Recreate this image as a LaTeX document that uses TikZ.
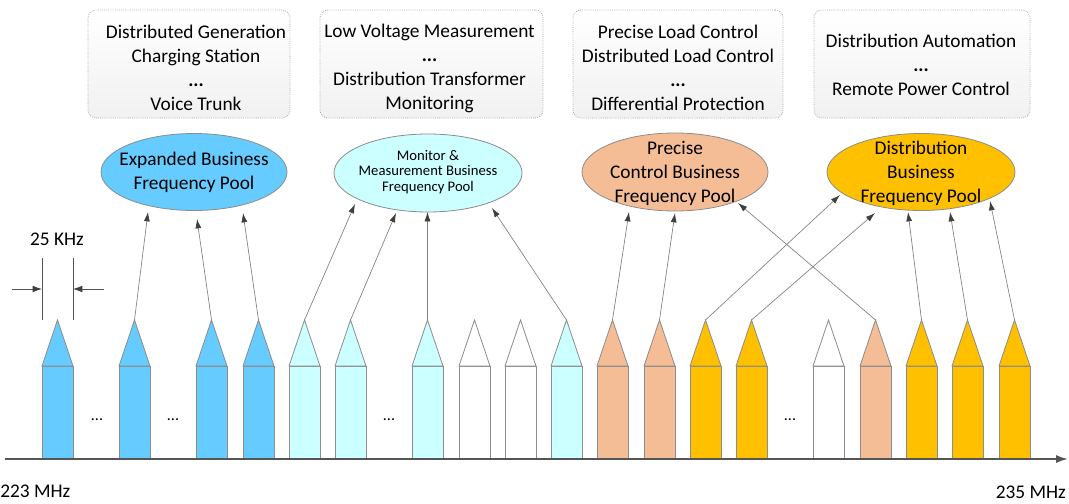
\documentclass[tikz,border=0pt]{standalone}
\usepackage{fontspec}
\setmainfont{Carlito}
\usetikzlibrary{arrows.meta,shapes.geometric,calc}

\definecolor{chanblue}{HTML}{66CCFF}
\definecolor{chancyan}{HTML}{CCFFFF}
\definecolor{chanpeach}{HTML}{F4BD95}
\definecolor{chanyellow}{HTML}{FFC000}
\definecolor{edgegray}{HTML}{8C8C8C}
\definecolor{feedgray}{HTML}{808080}
\definecolor{tipgray}{HTML}{3F3F3F}
\definecolor{axisgray}{HTML}{555555}

\begin{document}
\begin{tikzpicture}[x=0.75pt,y=-0.75pt,
  txt/.style={font=\fontsize{14.5}{18}\selectfont, align=center, inner sep=0pt, text=black},
  smalltxt/.style={font=\fontsize{11}{11.6}\selectfont, align=center, inner sep=0pt},
  dots/.style={font=\fontsize{12}{12}\selectfont, inner sep=0pt},
  chan/.style={draw=edgegray, line width=0.6pt},
  pool/.style={ellipse, draw=edgegray, line width=0.6pt, inner sep=0pt},
  card/.style={rectangle, rounded corners=6pt, draw=gray!70, densely dotted,
    line width=0.6pt, top color=white, bottom color=gray!11, inner sep=0pt,
    minimum height=81pt},
  feed/.style={draw=feedgray, line width=0.5pt,
    -{Latex[length=7pt,width=4.5pt,color=tipgray]}},
  dim/.style={draw=axisgray, line width=0.6pt,
    -{Latex[length=7pt,width=5pt,color=tipgray]}},
  guide/.style={draw=axisgray, line width=0.6pt},
  axis/.style={draw=axisgray, line width=1.3pt,
    -{Latex[length=9pt,width=6pt]}}
]
\useasboundingbox (0,0) rectangle (1069,503);

% service boxes
\node[card, minimum width=151.5pt]  (b1) at (189,64)   {};
\node[card, minimum width=167.25pt] (b2) at (431.5,64) {};
\node[card, minimum width=157.5pt]  (b3) at (678,64)   {};
\node[card, minimum width=162pt]    (b4) at (922,64)   {};
\node[txt] (b1t) at ($(b1)+(7,4)$)   {Distributed Generation\\Charging Station\\\textbf{...}\\Voice Trunk};
\node[txt] (b2t) at ($(b2)+(-2,4)$)  {Low Voltage Measurement\\\textbf{...}\\Distribution Transformer\\Monitoring};
\node[txt] (b3t) at ($(b3)+(0,4)$)   {Precise Load Control\\Distributed Load Control\\\textbf{...}\\Differential Protection};
\node[txt] (b4t) at ($(b4)+(-1,1)$)  {Distribution Automation\\\textbf{...}\\Remote Power Control};

% frequency pools
\node[pool, fill=chanblue,   minimum width=139.5pt, minimum height=57.75pt] (e1) at (194,172) {};
\node[pool, fill=chancyan,   minimum width=141pt,   minimum height=58.5pt]  (e2) at (428,173) {};
\node[pool, fill=chanpeach,  minimum width=139.5pt, minimum height=58.5pt]  (e3) at (675,172) {};
\node[pool, fill=chanyellow, minimum width=141pt,   minimum height=57.75pt] (e4) at (921,172) {};
\node[txt]      (e1t) at (e1) {Expanded Business\\Frequency Pool};
\node[smalltxt] (e2t) at ($(e2)+(0,-1)$) {Monitor \&\\Measurement Business\\Frequency Pool};
\node[txt]      (e3t) at ($(e3)+(0,1)$)  {Precise\\Control Business\\Frequency Pool};
\node[txt]      (e4t) at ($(e4)+(0,1)$)  {Distribution\\Business\\Frequency Pool};

% channels: index / left edge / fill
\foreach \i/\l/\c in {1/42/chanblue, 2/119/chanblue, 3/196/chanblue, 4/243/chanblue,
    5/289/chancyan, 6/335/chancyan, 7/412/chancyan, 8/459/white, 9/505/white,
    10/551/chancyan, 11/597/chanpeach, 12/644/chanpeach, 13/690/chanyellow,
    14/736/chanyellow, 15/813/white, 16/860/chanpeach, 17/906/chanyellow,
    18/952/chanyellow, 19/999/chanyellow} {
  \draw[chan, fill=\c] (\l,366) rectangle ++(31,93);
  \draw[chan, fill=\c] (\l,366) -- ++(15.5,-46) -- ++(15.5,46) -- cycle;
  \coordinate (t\i) at (\l+15.5,320);
}

% gaps in the channel list
\node[dots] (g1) at (97,420)  {...};
\node[dots] (g2) at (173,420) {...};
\node[dots] (g3) at (389,420) {...};
\node[dots] (g4) at (790,420) {...};

% channel-to-pool assignment
\draw[feed] (t2)  -- ($(e1)+(-46,40)$);
\draw[feed] (t3)  -- ($(e1)+(3,47)$);
\draw[feed] (t4)  -- ($(e1)+(49,41)$);
\draw[feed] (t5)  -- ($(e2)+(-73,31)$);
\draw[feed] (t6)  -- ($(e2)+(-32,40)$);
\draw[feed] (t7)  -- ($(e2)+(-0.5,39)$);
\draw[feed] (t10) -- ($(e2)+(64,35)$);
\draw[feed] (t11) -- ($(e3)+(-46,40)$);
\draw[feed] (t12) -- ($(e3)+(0,41)$);
\draw[feed] (t16) -- ($(e3)+(63,31)$);
\draw[feed] (t13) -- ($(e4)+(-81,23)$);
\draw[feed] (t14) -- ($(e4)+(-46,41)$);
\draw[feed] (t17) -- ($(e4)+(-13,40)$);
\draw[feed] (t18) -- ($(e4)+(29,40)$);
\draw[feed] (t19) -- ($(e4)+(69,29)$);

% channel spacing marker
\coordinate (m1) at (42,258);
\coordinate (m2) at (73,258);
\coordinate (kL) at (42,289);
\coordinate (kR) at (73,289);
\coordinate (dL) at (12,289);
\coordinate (dR) at (104,289);
\draw[guide] (m1) -- (42,320);
\draw[guide] (m2) -- (73,320);
\draw[dim] (dL) -- (kL);
\draw[dim] (dR) -- (kR);
\node[txt] (khz) at (57,239) {25 KHz};

% frequency axis
\coordinate (ax0) at (5,459);
\coordinate (ax1) at (1068,459);
\draw[axis] (ax0) -- (ax1);
\node[txt, anchor=west] (f0) at (0,491)    {223 MHz};
\node[txt, anchor=east] (f1) at (1066,492) {235 MHz};
\end{tikzpicture}
\end{document}
